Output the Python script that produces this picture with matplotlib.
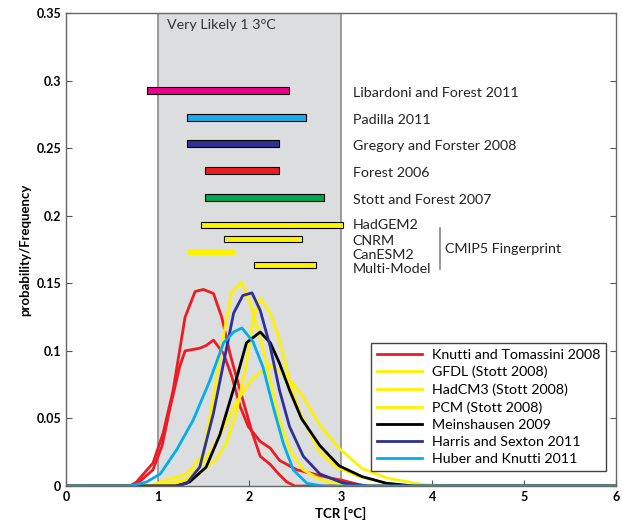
import matplotlib.pyplot as plt

# TCR ranges from observational studies (horizontal bars)
study_names = ['Libardoni and Forest 2011', 'Padilla 2011', 'Gregory and Forster 2008',
               'Forest 2006', 'Stott and Forest 2007']
study_lo = [0.88, 1.32, 1.32, 1.52, 1.52]
study_hi = [2.43, 2.62, 2.32, 2.32, 2.82]
study_y = [0.293, 0.273, 0.2535, 0.2337, 0.2135]
study_colors = ['#ec008c', '#1eaae7', '#2e3192', '#ed1c24', '#00a651']

# CMIP5 fingerprint ranges
cmip_names = ['HadGEM2', 'CNRM', 'CanESM2', 'Multi-Model']
cmip_lo = [1.47, 1.73, 1.33, 2.05]
cmip_hi = [3.02, 2.58, 1.84, 2.73]
cmip_y = [0.193, 0.183, 0.173, 0.1635]
cmip_label_y = [0.193, 0.1813, 0.1709, 0.1606]

# PDFs of TCR
knutti_a_x = [0, 0.7, 0.77, 0.95, 1.06, 1.17, 1.30, 1.41, 1.50, 1.61, 1.70, 1.79, 1.90,
              2.03, 2.12, 2.23, 2.32, 2.41, 2.5, 6]
knutti_a_y = [0, 0, 0.003, 0.017, 0.039, 0.071, 0.125, 0.144, 0.1455, 0.1425, 0.125, 0.098,
              0.071, 0.040, 0.022, 0.016, 0.009, 0.003, 0, 0]
knutti_b_x = [0, 0.7, 0.8, 0.95, 1.05, 1.13, 1.24, 1.30, 1.46, 1.53, 1.61, 1.72, 1.81, 1.90,
              1.99, 2.12, 2.23, 2.33, 2.52, 2.70, 2.88, 3.03, 3.2, 3.3, 6]
knutti_b_y = [0, 0, 0.003, 0.012, 0.030, 0.056, 0.088, 0.100, 0.102, 0.104, 0.108, 0.098,
              0.081, 0.059, 0.044, 0.033, 0.028, 0.019, 0.012, 0.009, 0.006, 0.004, 0.001, 0, 0]
gfdl_x = [0, 0.9, 1.03, 1.32, 1.50, 1.61, 1.68, 1.75, 1.81, 1.92, 2.01, 2.12, 2.23, 2.33,
          2.44, 2.59, 2.77, 2.95, 3.1, 6]
gfdl_y = [0, 0, 0.003, 0.009, 0.024, 0.066, 0.096, 0.123, 0.144, 0.151, 0.135, 0.110, 0.078,
          0.049, 0.027, 0.012, 0.005, 0.002, 0, 0]
hadcm3_x = [0, 1.1, 1.32, 1.5, 1.64, 1.75, 1.86, 1.97, 2.04, 2.12, 2.23, 2.33, 2.44, 2.55,
            2.77, 2.95, 3.2, 3.5, 3.8, 6]
hadcm3_y = [0, 0, 0.004, 0.012, 0.020, 0.032, 0.055, 0.091, 0.123, 0.139, 0.128, 0.108, 0.078,
            0.055, 0.025, 0.014, 0.007, 0.002, 0, 0]
pcm_x = [0, 0.9, 1.05, 1.32, 1.50, 1.68, 1.86, 2.04, 2.23, 2.41, 2.57, 2.77, 2.98, 3.23,
         3.5, 3.9, 4.1, 6]
pcm_y = [0, 0, 0.001, 0.005, 0.017, 0.038, 0.062, 0.080, 0.0895, 0.081, 0.068, 0.045, 0.028,
         0.013, 0.006, 0.001, 0, 0]
meins_x = [0, 1.2, 1.35, 1.53, 1.68, 1.83, 1.97, 2.12, 2.23, 2.33, 2.44, 2.57, 2.77, 2.98,
           3.23, 3.5, 3.8, 6]
meins_y = [0, 0, 0.003, 0.014, 0.038, 0.072, 0.106, 0.114, 0.106, 0.091, 0.071, 0.050, 0.030,
           0.015, 0.007, 0.002, 0, 0]
harris_x = [0, 1.2, 1.32, 1.46, 1.61, 1.72, 1.83, 1.93, 2.03, 2.12, 2.23, 2.33, 2.44, 2.59,
            2.77, 3.03, 3.3, 6]
harris_y = [0, 0, 0.002, 0.014, 0.054, 0.091, 0.128, 0.141, 0.143, 0.130, 0.103, 0.071, 0.044,
            0.022, 0.009, 0.002, 0, 0]
huber_x = [0, 0.7, 0.88, 1.03, 1.21, 1.39, 1.57, 1.72, 1.83, 1.92, 2.04, 2.15, 2.26, 2.37,
           2.48, 2.63, 2.8, 6]
huber_y = [0, 0, 0.003, 0.009, 0.027, 0.049, 0.078, 0.106, 0.114, 0.117, 0.107, 0.088, 0.059,
           0.032, 0.012, 0.002, 0, 0]

plt.rcParams['font.family'] = ['Lato', 'DejaVu Sans']
fs = 10.3

fig = plt.figure(figsize=(6.22, 5.26), dpi=100)
ax = fig.add_axes([0.106, 0.076, 0.884, 0.899])

# very likely range shading
ax.axvspan(1, 3, facecolor='#dcdddf', edgecolor='none', zorder=0)
ax.axvline(1, color='#8c8c8c', lw=1.2, zorder=1)
ax.axvline(3, color='#8c8c8c', lw=1.2, zorder=1)
ax.text(1.1, 0.341, 'Very Likely 1 3°C', fontsize=fs, color='#333333', va='center')

bar_h = 0.0052
for lo, hi, y, c, name in zip(study_lo, study_hi, study_y, study_colors, study_names):
    ax.barh(y, hi - lo, left=lo, height=bar_h, color=c, edgecolor='black', lw=0.8, zorder=3)
    ax.text(3.13, y - 0.002, name, fontsize=fs, color='#222222', va='center')

for name, lo, hi, y, ly in zip(cmip_names, cmip_lo, cmip_hi, cmip_y, cmip_label_y):
    ec = 'none' if name == 'CanESM2' else 'black'
    ax.barh(y, hi - lo, left=lo, height=0.0045, color='#fff200', edgecolor=ec, lw=0.8, zorder=3)
    ax.text(3.13, ly, name, fontsize=fs, color='#222222', va='center')
ax.plot([4.08, 4.08], [0.161, 0.191], color='#888888', lw=1.2)
ax.text(4.14, 0.1755, 'CMIP5 Fingerprint', fontsize=fs, color='#222222', va='center')

lw = 2.0
ax.plot(knutti_a_x, knutti_a_y, color='#ed1c24', lw=lw, label='Knutti and Tomassini 2008')
ax.plot(knutti_b_x, knutti_b_y, color='#ed1c24', lw=lw)
ax.plot(gfdl_x, gfdl_y, color='#fff200', lw=lw, label='GFDL (Stott 2008)')
ax.plot(hadcm3_x, hadcm3_y, color='#fff200', lw=lw, label='HadCM3 (Stott 2008)')
ax.plot(pcm_x, pcm_y, color='#fff200', lw=lw, label='PCM (Stott 2008)')
ax.plot(meins_x, meins_y, color='black', lw=lw, label='Meinshausen 2009')
ax.plot(harris_x, harris_y, color='#2e3192', lw=lw, label='Harris and Sexton 2011')
ax.plot(huber_x, huber_y, color='#00aeef', lw=lw, label='Huber and Knutti 2011')

leg = ax.legend(loc='lower right', bbox_to_anchor=(0.996, 0.017), fontsize=fs,
                frameon=True, fancybox=False, framealpha=1, edgecolor='#444444',
                handlelength=3.15, labelspacing=0.36, borderpad=0.4, handletextpad=0.7)
leg.get_frame().set_linewidth(1.0)

ax.set_xlim(0, 6)
ax.set_ylim(0, 0.35)
ax.set_xticks(range(7))
ax.set_yticks([0, 0.05, 0.1, 0.15, 0.2, 0.25, 0.3, 0.35])
ax.set_yticklabels(['0', '0.05', '0.1', '0.15', '0.2', '0.25', '0.3', '0.35'])
ax.tick_params(direction='in', length=4, right=True, labelsize=9, color='#555555')
for lab in ax.get_xticklabels() + ax.get_yticklabels():
    lab.set_fontweight('bold')
for sp in ax.spines.values():
    sp.set_color('#666666')
    sp.set_linewidth(1.0)

ax.set_xlabel('TCR [°C]', fontsize=9.5, fontweight='bold', labelpad=3)
ax.set_ylabel('probability/Frequency', fontsize=9.5, fontweight='bold', labelpad=4)

fig.savefig('out.png', dpi=100)
